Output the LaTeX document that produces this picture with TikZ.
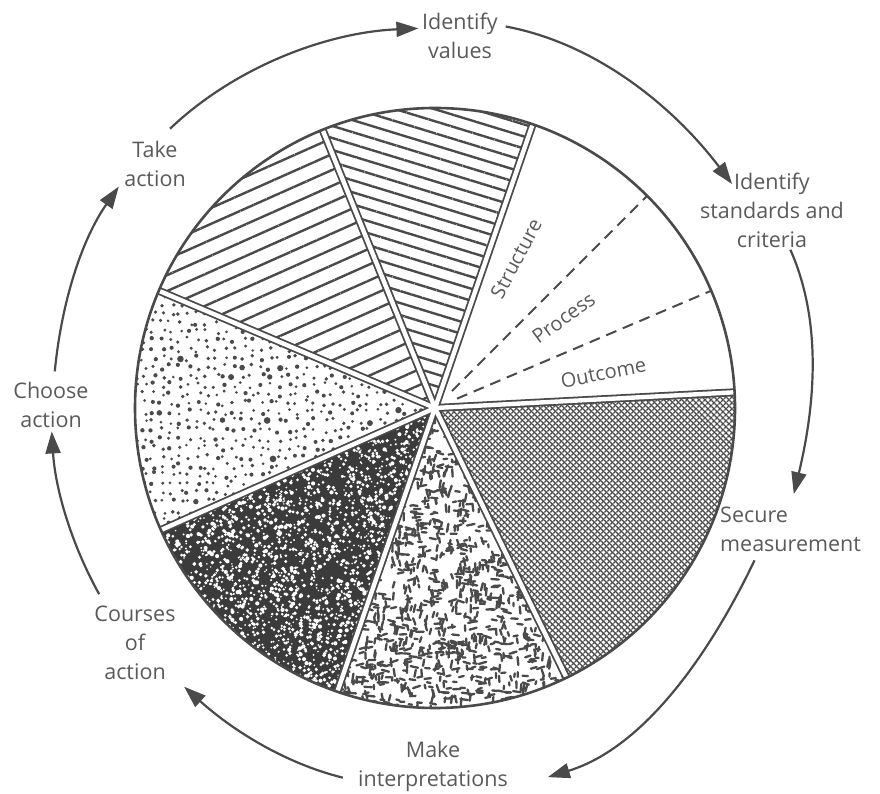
\documentclass[tikz,border=0pt]{standalone}
\usepackage{fontspec}
\setmainfont{Open Sans}
\usetikzlibrary{patterns.meta,arrows.meta,calc}
\definecolor{lc}{HTML}{4A4A4A}
\definecolor{tc}{HTML}{5A5A5A}
\begin{document}
\begin{tikzpicture}[x=1pt,y=1pt,
  lbl/.style={text=tc, font=\fontsize{21.5}{29}\selectfont, align=center, inner sep=0pt},
  sublbl/.style={text=tc, font=\fontsize{20}{22}\selectfont, inner sep=0pt},
  arr/.style={draw=lc, line width=2.2pt, looseness=0.87, -{Triangle[length=22pt,width=15pt]}},
  gapdark/.style={draw=lc, line width=8pt},
  gaplight/.style={draw=white, line width=4.4pt},
  dashline/.style={draw=lc, line width=2pt, dash pattern=on 11pt off 7pt}]
\useasboundingbox (0,0) rectangle (880,794);
\fill[white] (0,0) rectangle (880,794);
\coordinate (O) at (435,386);
\begin{scope}[shift={(435,386)}]
  % horizontal-ish hatching
  \fill[pattern={Lines[angle=-17,distance=11.5pt,line width=2.4pt]}, pattern color=lc]
    (0,0) -- (71:300pt) arc[start angle=71,end angle=112,radius=300pt] -- cycle;
  % diagonal hatching
  \fill[pattern={Lines[angle=24,distance=14.5pt,line width=2.4pt]}, pattern color=lc]
    (0,0) -- (112:300pt) arc[start angle=112,end angle=157,radius=300pt] -- cycle;
  % fine crosshatch
  \fill[pattern={Lines[angle=45,distance=4pt,line width=1.4pt]}, pattern color=lc]
    (0,0) -- (-64:300pt) arc[start angle=-64,end angle=3,radius=300pt] -- cycle;
  \fill[pattern={Lines[angle=-45,distance=4pt,line width=1.4pt]}, pattern color=lc]
    (0,0) -- (-64:300pt) arc[start angle=-64,end angle=3,radius=300pt] -- cycle;
  \pgfmathsetseed{4242}
  % dotted slice (jittered grid)
  \begin{scope}
    \clip (0,0) -- (157:300pt) arc[start angle=157,end angle=204,radius=300pt] -- cycle;
    \foreach \x in {-300,-291,...,0}{
      \foreach \y in {-130,-121,...,125}{
        \pgfmathsetmacro\px{\x+6*(rnd-0.5)}
        \pgfmathsetmacro\py{\y+6*(rnd-0.5)}
        \pgfmathsetmacro\dr{1.4+0.8*rnd+1.2*(rnd>0.97)}
        \fill[lc] (\px pt,\py pt) circle[radius=\dr pt];
      }
    }
  \end{scope}
  % dark speckled slice
  \begin{scope}
    \clip (0,0) -- (204:300pt) arc[start angle=204,end angle=251,radius=300pt] -- cycle;
    \fill[lc!80!black] (0,0) -- (204:300pt) arc[start angle=204,end angle=251,radius=300pt] -- cycle;
    \foreach \i in {1,...,1700}{
      \pgfmathsetmacro\ang{204+47*rnd}
      \pgfmathsetmacro\rad{300*sqrt(rnd)}
      \pgfmathsetmacro\dr{0.8+1.3*rnd}
      \fill[white] (\ang:\rad pt) circle[radius=\dr pt];
    }
  \end{scope}
  % worm / brick slice
  \begin{scope}
    \clip (0,0) -- (251:300pt) arc[start angle=251,end angle=296,radius=300pt] -- cycle;
    \foreach \i in {1,...,850}{
      \pgfmathsetmacro\ang{251+45*rnd}
      \pgfmathsetmacro\rad{300*sqrt(rnd)}
      \pgfmathsetmacro\t{90*(rnd>0.5)+40*(rnd-0.5)}
      \pgfmathsetmacro\l{1.5+2.5*rnd}
      \pgfmathsetmacro\ll{2*\l}
      \draw[lc, line width=2.3pt, line cap=round] (\ang:\rad pt) ++(\t:-\l pt) -- ++(\t:\ll pt);
    }
  \end{scope}
  % slice boundaries (white gaps with dark edges)
  \foreach \a in {3,71,112,157,204,251,296}{
    \draw[gapdark] (0,0) -- (\a:300pt);
  }
  \foreach \a in {3,71,112,157,204,251,296}{
    \draw[gaplight] (0,0) -- (\a:300pt);
  }
  % dashed subdivisions
  \draw[dashline] (23:24pt) -- (23:300pt);
  \draw[dashline] (45:24pt) -- (45:300pt);
  % outline
  \draw[lc, line width=2.6pt] (0,0) circle[radius=300pt];
  % sub labels
  \node[sublbl, rotate=11] (oc) at (11.8:172pt) {Outcome};
  \node[sublbl, rotate=36] (pr) at (35:157pt) {Process};
  \node[sublbl, rotate=62] (st) at (61.5:170pt) {Structure};
  % arrow end points
  \coordinate (a1s) at (133.5:385pt); \coordinate (a1e) at (92.5:380pt);
  \coordinate (a2s) at (79.5:388pt);  \coordinate (a2e) at (37:372pt);
  \coordinate (a3s) at (24:389pt);    \coordinate (a3e) at (-13.5:369pt);
  \coordinate (a4s) at (-25.5:354pt); \coordinate (a4e) at (-73:386pt);
  \coordinate (a5s) at (256:381pt);   \coordinate (a5e) at (228:375pt);
  \coordinate (a6s) at (209:384pt);   \coordinate (a6e) at (183.5:384pt);
  \coordinate (a7s) at (174.5:382pt); \coordinate (a7e) at (145:386pt);
\end{scope}
% cycle labels
\node[lbl] (iv) at (460,758) {Identify\\values};
\node[lbl] (isc) at (772,584) {Identify\\standards and\\criteria};
\node[lbl, align=left, anchor=west] (sm) at (720,265) {Secure\\measurement};
\node[lbl] (mi) at (433,28) {Make\\interpretations};
\node[lbl] (coa) at (135,151) {Courses\\of\\action};
\node[lbl] (ca) at (51,389) {Choose\\action};
\node[lbl] (ta) at (155,630) {Take\\action};
% cycle arrows
\draw[arr] (a1s) to[out=43.5, in=182.5] (a1e);
\draw[arr] (a2s) to[out=-10.5, in=127] (a2e);
\draw[arr] (a3s) to[out=-66, in=76.5] (a3e);
\draw[arr] (a4s) to[out=-115.5, in=17] (a4e);
\draw[arr] (a5s) to[out=166, in=318] (a5e);
\draw[arr] (a6s) to[out=119, in=273.5] (a6e);
\draw[arr] (a7s) to[out=84.5, in=235] (a7e);
\end{tikzpicture}
\end{document}
